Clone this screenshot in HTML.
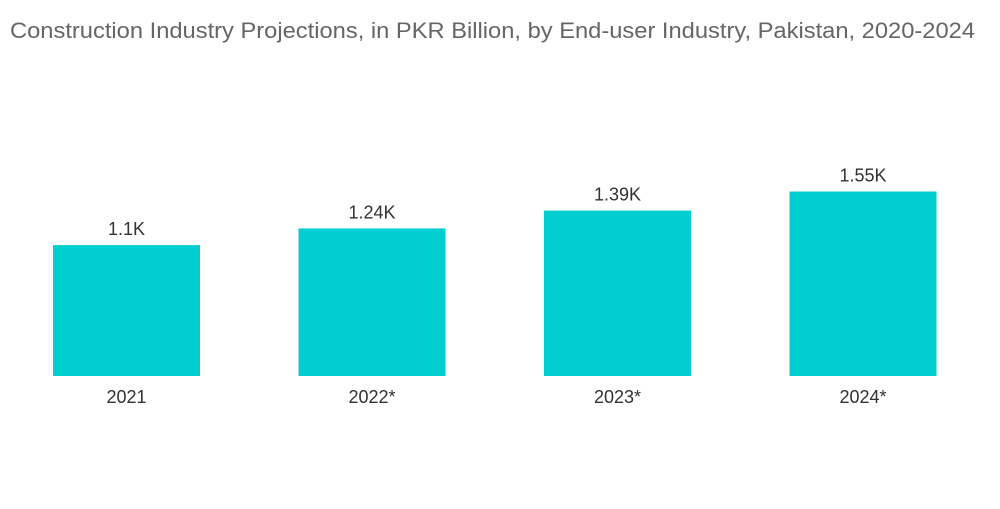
<!DOCTYPE html>
<html><head><meta charset="utf-8"><style>
body{margin:0;background:#fff;width:1000px;height:504px;overflow:hidden;font-family:"Liberation Sans",sans-serif}
</style></head><body>
<svg width="1000" height="504">
<text x="10" y="38" font-size="22" fill="#666" textLength="965" lengthAdjust="spacingAndGlyphs">Construction Industry Projections, in PKR Billion, by End-user Industry, Pakistan, 2020-2024</text>
<g id="bars"></g>
</svg>
<script>
const categories=["2021","2022*","2023*","2024*"];
const values=[1100,1240,1390,1550];
const valueLabels=["1.1K","1.24K","1.39K","1.55K"];
const baseY=376, pxPer=0.1190, x0=53, step=245.5, bw=147;
function xScale(i){return x0+i*step;}
function yScale(v){return baseY-v*pxPer;}
const g=document.getElementById('bars');
const ns="http://www.w3.org/2000/svg";
categories.forEach((c,i)=>{
  const r=document.createElementNS(ns,'rect');
  r.setAttribute('x',xScale(i));r.setAttribute('y',yScale(values[i]));
  r.setAttribute('width',bw);r.setAttribute('height',baseY-yScale(values[i]));
  r.setAttribute('fill','#00CED1');
  
  
  g.appendChild(r);
  const t=document.createElementNS(ns,'text');
  t.setAttribute('x',xScale(i)+bw/2);t.setAttribute('y',yScale(values[i])-10);
  t.setAttribute('text-anchor','middle');t.setAttribute('font-size','18');t.setAttribute('fill','#333');
  t.textContent=valueLabels[i];
  
  
  g.appendChild(t);
  const l=document.createElementNS(ns,'text');
  l.setAttribute('x',xScale(i)+bw/2);l.setAttribute('y',403);
  l.setAttribute('text-anchor','middle');l.setAttribute('font-size','18');l.setAttribute('fill','#333');
  l.textContent=c;
  
  
  g.appendChild(l);
});
</script>
</body></html>
